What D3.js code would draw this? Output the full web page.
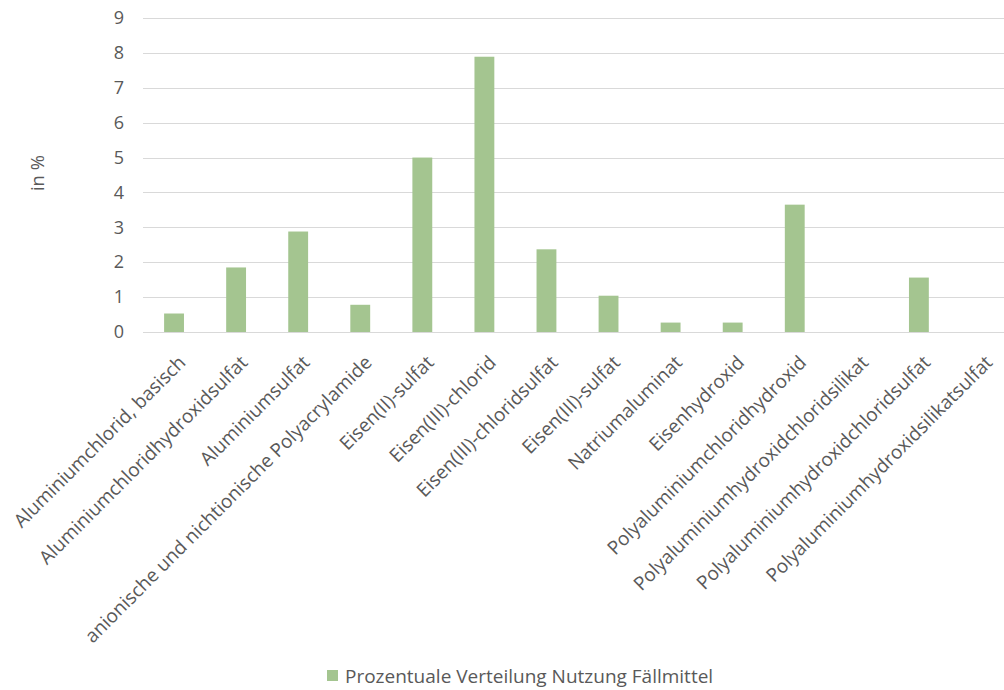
<!DOCTYPE html>
<html>
<head>
<meta charset="utf-8">
<script src="https://cdn.jsdelivr.net/npm/d3@7"></script>
<style>
  html, body { margin: 0; padding: 0; background: #fff; }
  svg { display: block; font-family: "Open Sans", "Noto Sans", sans-serif; }
</style>
</head>
<body>
<svg id="chart" width="1004" height="690"></svg>
<script>
// Precipitant usage shares (percent)
const categories = [
  "Aluminiumchlorid, basisch",
  "Aluminiumchloridhydroxidsulfat",
  "Aluminiumsulfat",
  "anionische und nichtionische Polyacrylamide",
  "Eisen(II)-sulfat",
  "Eisen(III)-chlorid",
  "Eisen(III)-chloridsulfat",
  "Eisen(III)-sulfat",
  "Natriumaluminat",
  "Eisenhydroxid",
  "Polyaluminiumchloridhydroxid",
  "Polyaluminiumhydroxidchloridsilikat",
  "Polyaluminiumhydroxidchloridsulfat",
  "Polyaluminiumhydroxidsilikatsulfat"
];
const values = [0.53, 1.85, 2.88, 0.78, 5.0, 7.89, 2.37, 1.04, 0.27, 0.27, 3.65, 0, 1.56, 0];
const yTicks = [0, 1, 2, 3, 4, 5, 6, 7, 8, 9];
const seriesName = "Prozentuale Verteilung Nutzung Fällmittel";
const yTitle = "in %";

const svg = d3.select("#chart");
const textColor = "#595959";
const barColor = "#a4c590";

const plot = { left: 143, right: 1012, top: 18, bottom: 332 };

const x = d3.scaleBand()
  .domain(categories)
  .range([plot.left, plot.right])
  .paddingInner(0.68)
  .paddingOuter(0.34);

const y = d3.scaleLinear()
  .domain([0, 9])
  .range([plot.bottom, plot.top]);

// horizontal gridlines
svg.append("g")
  .selectAll("line")
  .data(yTicks)
  .join("line")
  .attr("x1", plot.left)
  .attr("x2", plot.right)
  .attr("y1", d => Math.round(y(d)) + 0.5)
  .attr("y2", d => Math.round(y(d)) + 0.5)
  .attr("stroke", "#d9d9d9")
  .attr("stroke-width", 1);

// y axis tick labels
const yAxis = d3.axisLeft(y).tickValues(yTicks).tickSize(0).tickPadding(0).tickFormat(d3.format("d"));
const yg = svg.append("g")
  .attr("transform", `translate(${124},0)`)
  .call(yAxis);
yg.select(".domain").remove();
yg.selectAll("text")
  .attr("fill", textColor)
  .attr("font-size", 18)
  .attr("font-family", "Open Sans, sans-serif");

// bars
svg.append("g")
  .selectAll("rect")
  .data(values)
  .join("rect")
  .attr("x", (d, i) => x(categories[i]))
  .attr("width", x.bandwidth())
  .attr("y", d => y(d))
  .attr("height", d => y(0) - y(d))
  .attr("fill", barColor);

// category labels, rotated
svg.append("g")
  .selectAll("text")
  .data(categories)
  .join("text")
  .attr("transform", d => `translate(${x(d) + x.bandwidth() / 2 + 8},${plot.bottom + 27}) rotate(-45)`)
  .attr("text-anchor", "end")
  .attr("dy", "0.35em")
  .attr("fill", textColor)
  .attr("font-size", 19)
  .text(d => d);

// y axis title
svg.append("text")
  .attr("transform", `translate(${44},${173}) rotate(-90)`)
  .attr("text-anchor", "middle")
  .attr("fill", textColor)
  .attr("font-size", 18.5)
  .text(yTitle);

// legend
const legend = svg.append("g").attr("transform", "translate(327,670)");
legend.append("rect")
  .attr("width", 11)
  .attr("height", 11)
  .attr("fill", barColor);
legend.append("text")
  .attr("x", 18)
  .attr("y", 13)
  .attr("fill", textColor)
  .attr("font-size", 19)
  .text(seriesName);
</script>
</body>
</html>
